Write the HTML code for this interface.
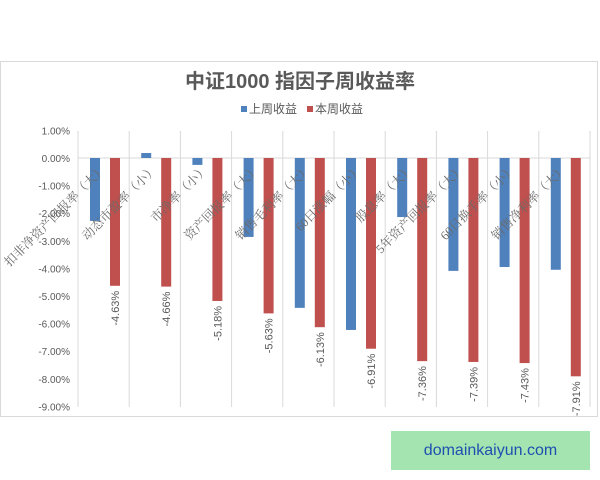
<!DOCTYPE html>
<html><head><meta charset="utf-8"><style>
body{margin:0;background:#fff;width:600px;height:480px;overflow:hidden}
svg{display:block}
</style></head><body>
<svg width="600" height="480" viewBox="0 0 600 480" xmlns="http://www.w3.org/2000/svg">
<rect x="0.5" y="61.5" width="597" height="355" fill="#fff" stroke="#d9d9d9"/>
<text x="300" y="88" text-anchor="middle" font-family="Liberation Sans, Noto Sans CJK SC, sans-serif" font-size="20" font-weight="bold" fill="#595959">中证1000 指因子周收益率</text>
<rect x="241" y="106" width="6" height="6" fill="#4f81bd"/>
<text x="249" y="113" font-family="Liberation Sans, Noto Sans CJK SC, sans-serif" font-size="12" fill="#595959">上周收益</text>
<rect x="307" y="106" width="6" height="6" fill="#c0504d"/>
<text x="315" y="113" font-family="Liberation Sans, Noto Sans CJK SC, sans-serif" font-size="12" fill="#595959">本周收益</text>
<g id="g"></g>
</svg>
<script>
const g=document.getElementById('g');
const ns='http://www.w3.org/2000/svg';
function el(t,a,txt){const e=document.createElementNS(ns,t);for(const k in a)e.setAttribute(k,a[k]);if(txt)e.textContent=txt;g.appendChild(e);return e;}
const y0=158,s=27.6,x0=78,w=51.2;
const Y=v=>y0-v*s;
for(let i=1;i>=-9;i--){
 el('text',{x:70,y:Y(i)+4,'text-anchor':'end','font-family':'Liberation Sans, sans-serif','font-size':'10',fill:'#595959'},i.toFixed(2)+'%');
}
el('line',{x1:x0,x2:590,y1:y0,y2:y0,stroke:'#d9d9d9'});
for(let k=0;k<=10;k++){const x=x0+k*w;el('line',{x1:x,x2:x,y1:131,y2:407,stroke:'#d9d9d9'});}
const blue=[-2.28,0.18,-0.25,-2.86,-5.43,-6.23,-2.14,-4.09,-3.95,-4.05];
const red=[-4.63,-4.66,-5.18,-5.63,-6.13,-6.91,-7.36,-7.39,-7.43,-7.91];
const labs=['扣非净资产回报率（大）','动态市盈率（小）','市净率（小）','资产回报率（大）','销售毛利率（大）','60日涨幅（小）','股息率（大）','5年资产回报率（大）','60日换手率（小）','销售净利率（大）'];
for(let k=0;k<10;k++){
 const x=x0+k*w;
 const b=blue[k];el('rect',{x:x+12,y:Math.min(Y(b),y0),width:10,height:Math.abs(b*s),fill:'#4f81bd'});
 const r=red[k];el('rect',{x:x+32,y:y0,width:10,height:-r*s,fill:'#c0504d'});
 const ly=Y(r)+5,lx=x+41;
 el('text',{x:lx,y:ly,transform:`rotate(-90 ${lx} ${ly})`,'text-anchor':'end','font-family':'Liberation Sans, sans-serif','font-size':'11',fill:'#595959'},r.toFixed(2)+'%');
 const cx=x+w/2+3,cy=170;
 el('text',{x:cx,y:cy,transform:`rotate(-45 ${cx} ${cy})`,'text-anchor':'end','font-family':'Liberation Serif, Noto Serif CJK SC, serif','font-size':'12.5',fill:'#6a6a6a'},labs[k]);
}
</script>
<div style="position:absolute;left:391px;top:431px;width:199px;height:39px;background:#a3e4b0;color:#1f4fb0;font:16px 'Liberation Sans',sans-serif;text-align:center;line-height:39px">domainkaiyun.com</div>
</body></html>
